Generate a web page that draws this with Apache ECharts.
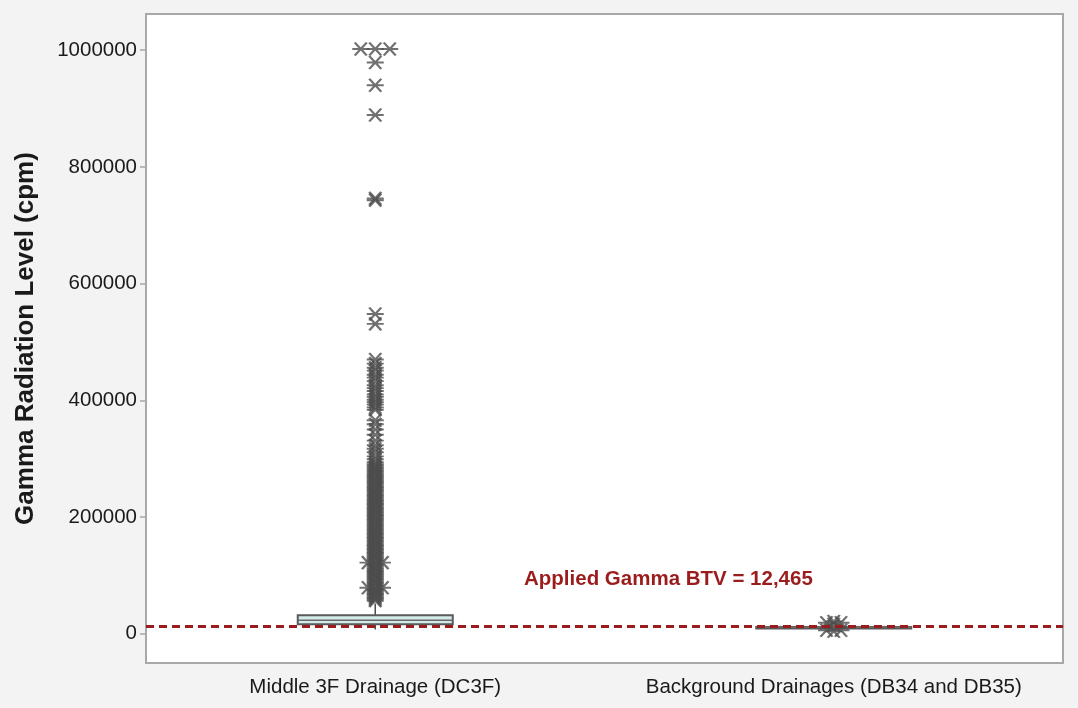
<!DOCTYPE html>
<html>
<head>
<meta charset="utf-8">
<script src="https://cdn.jsdelivr.net/npm/echarts@6/dist/echarts.min.js"></script>
<style>
  html, body { margin: 0; padding: 0; background: #f3f3f3; }
  #chart { width: 1078px; height: 708px; }
</style>
</head>
<body>
<div id="chart"></div>
<script>
// Drainage groups on the x axis
const categories = ['Middle 3F Drainage (DC3F)', 'Background Drainages (DB34 and DB35)'];

// Box statistics per group: [lower whisker, Q1, median, Q3, upper whisker]
const boxStats = [
  [7500, 16300, 23100, 31700, 52000],
  [9000, 10900, 11300, 11700, 14000]
];

// Outliers per group (repeated values are separate readings of the same level)
const dc3fOutliers = [
  1002000, 1002000, 1002000, 979000, 940000, 889000, 746000, 743000,
  548000, 531000,
  470000, 463000, 456000, 451000, 444000, 439000, 433000, 426000, 421000, 416000,
  410000, 406000, 401000, 397000, 393000, 388000, 384000,
  366000, 359000, 350000, 341000,
  331000, 323000, 317000, 311000, 304000, 299000, 294000,
  290500, 288000, 285200, 283100, 280400, 278300, 275700, 273200, 271400, 268600,
  266300, 264100, 261500, 259200, 257300, 254800, 252100, 250300, 247600, 245400,
  243300, 240700, 238200, 236400, 233900, 231500, 229100, 227200, 224600, 222300,
  220400, 217800, 215100, 213300, 210900, 208200, 206100, 203700, 201300, 199200,
  196800, 194300, 192200, 189600, 187400, 185100, 182700, 180300, 178100, 175600,
  173200, 171300, 168800, 166400, 164100, 161700, 159300, 157100, 154600, 152300,
  150200, 147800, 145300, 143100, 140600, 138400, 136200, 133700, 131200, 129300,
  126800, 124500, 122000, 122000, 119700, 117300, 115100, 112600, 110300, 108200,
  105800, 103300, 101100, 98700, 96400, 94200, 91700, 89300, 87100, 84600,
  82300, 79000, 79000, 77300, 75100, 72800, 70400, 68200, 66100, 63700,
  61300, 59200, 56800
];
const backgroundOutliers = [21000, 19000, 19000, 16500, 6000, 6000, 4500];

// Threshold line
const btvValue = 12465;
const btvLabel = 'Applied Gamma BTV = 12,465';

// Y axis tick labels
const yTicks = [0, 200000, 400000, 600000, 800000, 1000000];

const FONT = '"Liberation Sans", Arial, sans-serif';
const DARK = '#4d4d4d';
const FRAME = '#a8a8a8';
const RED = '#9b1c1c';

// Six-armed asterisk marker
const asterisk = 'path://M0,6.5L17,6.5M2.5,0L14.5,13M2.5,13L14.5,0';

// Spread repeated values side by side
function outlierPoints(catIndex, values) {
  const counts = {};
  values.forEach(v => { counts[v] = (counts[v] || 0) + 1; });
  const seen = {};
  return values.map(v => {
    const n = counts[v];
    const i = seen[v] = (seen[v] === undefined ? 0 : seen[v] + 1);
    return { value: [catIndex, v], symbolOffset: [(i - (n - 1) / 2) * 14.5, 0] };
  });
}

const chart = echarts.init(document.getElementById('chart'), null, { renderer: 'canvas' });

chart.setOption({
  backgroundColor: '#f3f3f3',
  animation: false,
  grid: {
    left: 146, right: 15, top: 14, bottom: 45,
    show: true, backgroundColor: '#ffffff', borderColor: FRAME, borderWidth: 2
  },
  xAxis: {
    type: 'category',
    data: categories,
    axisLine: { onZero: false, lineStyle: { color: FRAME, width: 2 } },
    axisTick: { alignWithLabel: true, length: 5, lineStyle: { color: FRAME, width: 1.5 } },
    axisLabel: { interval: 0, color: '#1a1a1a', fontFamily: FONT, fontSize: 20.5, margin: 14 }
  },
  yAxis: {
    type: 'value',
    min: -50000,
    max: 1062000,
    name: 'Gamma Radiation Level (cpm)',
    nameLocation: 'middle',
    nameGap: 107,
    nameTextStyle: { color: '#1a1a1a', fontFamily: FONT, fontSize: 26, fontWeight: 'bold' },
    splitLine: { show: false },
    axisLine: { show: true, lineStyle: { color: FRAME, width: 2 } },
    axisTick: { show: true, length: 6, customValues: yTicks, lineStyle: { color: FRAME, width: 1.5 } },
    axisLabel: {
      color: '#1a1a1a', fontFamily: FONT, fontSize: 20.5, margin: 9, customValues: yTicks,
      formatter: v => String(v)
    }
  },
  graphic: [{
    type: 'text',
    left: 524,
    top: 569,
    style: { text: btvLabel, fill: RED, font: 'bold 20.5px ' + FONT }
  }],
  series: [
    {
      // Boxes with median and whiskers (no caps)
      type: 'custom',
      data: boxStats.map((s, i) => [i].concat(s)),
      encode: { x: 0, y: [1, 2, 3, 4, 5] },
      z: 2,
      renderItem: function (params, api) {
        const i = api.value(0);
        const half = 77.5;
        const lo = api.coord([i, api.value(1)]);
        const q1 = api.coord([i, api.value(2)]);
        const md = api.coord([i, api.value(3)]);
        const q3 = api.coord([i, api.value(4)]);
        const hi = api.coord([i, api.value(5)]);
        const x = lo[0];
        const line = { stroke: DARK, lineWidth: 1.5 };
        return {
          type: 'group',
          children: [
            { type: 'line', shape: { x1: x, y1: lo[1], x2: x, y2: q1[1] }, style: line },
            { type: 'line', shape: { x1: x, y1: q3[1], x2: x, y2: hi[1] }, style: line },
            {
              type: 'rect',
              shape: { x: x - half, y: q3[1], width: half * 2, height: Math.max(q1[1] - q3[1], 1.5) },
              style: { fill: '#d3ebe9', stroke: '#5a5a5a', lineWidth: 2 }
            },
            { type: 'line', shape: { x1: x - half, y1: md[1], x2: x + half, y2: md[1] }, style: { stroke: '#6a6a6a', lineWidth: 1.5 } }
          ]
        };
      }
    },
    {
      type: 'scatter',
      data: outlierPoints(0, dc3fOutliers).concat(outlierPoints(1, backgroundOutliers)),
      symbol: asterisk,
      symbolSize: [17, 13],
      z: 3,
      itemStyle: { color: 'rgba(0,0,0,0)', borderColor: DARK, borderWidth: 2.2 }
    },
    {
      // Threshold line across the plot
      type: 'line',
      data: [],
      z: 4,
      markLine: {
        silent: true,
        symbol: 'none',
        label: { show: false },
        lineStyle: { color: RED, width: 3, type: [8, 5] },
        data: [{ yAxis: btvValue }]
      }
    }
  ]
});
</script>
</body>
</html>
